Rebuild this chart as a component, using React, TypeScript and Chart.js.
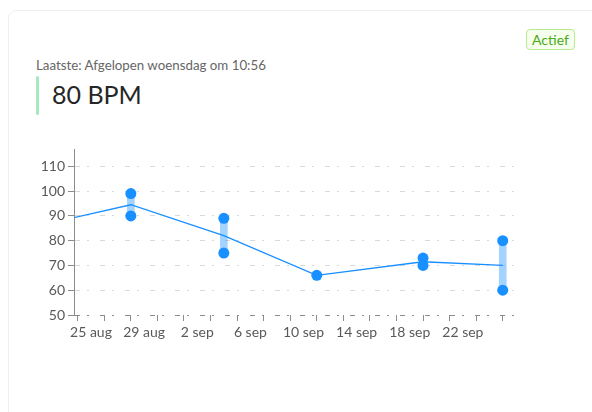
import React, { useEffect, useRef } from 'react';
import { Chart, registerables } from 'chart.js';

Chart.register(...registerables);

// Days after 25 aug
const dayOffsets = [-4, 3, 10, 17, 25, 31];
const minBpm = [82, 90, 75, 66, 70, 60];
const maxBpm = [90, 99, 89, 66, 73, 80];
const avgBpm = [86, 94.5, 82, 66, 71.5, 70];

const xTickDays = [0, 2, 4, 6, 8, 10, 12, 14, 16, 18, 20, 22, 24, 26, 28, 30];
const xTickLabels = ['25 aug', '', '29 aug', '', '2 sep', '', '6 sep', '', '10 sep', '', '14 sep', '', '18 sep', '', '22 sep', ''];
const yTicks = [50, 60, 70, 80, 90, 100, 110];
const xMin = -1.28;
const xMax = 32.3;
const yMin = 50;
const yMax = 117;

const BLUE = '#1890ff';
const FONT = 'Lato, "Noto Sans", sans-serif';

export default function App() {
  const ref = useRef<HTMLCanvasElement | null>(null);

  useEffect(() => {
    if (!ref.current) return;
    const dots: { x: number; y: number }[] = [];
    dayOffsets.forEach((d, i) => {
      dots.push({ x: d, y: minBpm[i] });
      if (maxBpm[i] !== minBpm[i]) dots.push({ x: d, y: maxBpm[i] });
    });
    const chart = new Chart(ref.current, {
      type: 'line',
      data: {
        datasets: [
          {
            type: 'scatter',
            data: dots,
            backgroundColor: BLUE,
            borderColor: BLUE,
            borderWidth: 0,
            pointRadius: 5.5,
            pointHoverRadius: 5.5,
            order: 1,
          } as any,
          {
            type: 'line',
            data: dayOffsets.map((d, i) => ({ x: d, y: avgBpm[i] })),
            borderColor: BLUE,
            borderWidth: 1.3,
            pointRadius: 0,
            tension: 0,
            fill: false,
            order: 2,
          } as any,
          {
            type: 'bar',
            data: dayOffsets.map((d, i) => ({ x: d, y: [minBpm[i], maxBpm[i]] })),
            backgroundColor: 'rgba(24,144,255,0.4)',
            borderWidth: 0,
            barThickness: 7,
            order: 3,
          } as any,
        ],
      },
      options: {
        animation: false,
        responsive: false,
        maintainAspectRatio: false,
        layout: { padding: { top: 9, right: 40, left: 0, bottom: 0 } },
        plugins: { legend: { display: false }, tooltip: { enabled: false } },
        scales: {
          x: {
            type: 'linear',
            min: xMin,
            max: xMax,
            offset: false,
            afterBuildTicks: (s: any) => {
              s.ticks = xTickDays.map((v) => ({ value: v }));
            },
            afterFit: (s: any) => {
              s.height = 45;
              s.paddingLeft = 0;
              s.paddingRight = 0;
            },
            grid: {
              drawOnChartArea: false,
              drawTicks: true,
              tickLength: 6,
              tickColor: '#8c8c8c',
              tickWidth: 1,
              tickBorderDash: [],
            },
            border: { display: false },
            ticks: {
              autoSkip: false,
              maxRotation: 0,
              padding: 3,
              color: '#595959',
              font: { family: FONT, size: 14 },
              callback: (_v: any, i: number) => xTickLabels[i],
            },
          },
          y: {
            type: 'linear',
            min: yMin,
            max: yMax,
            afterBuildTicks: (s: any) => {
              s.ticks = yTicks.map((v) => ({ value: v }));
            },
            afterFit: (s: any) => {
              s.width = 54;
              s.paddingTop = 0;
              s.paddingBottom = 0;
            },
            grid: {
              color: (c: any) => (c.tick && c.tick.value === 50 ? '#8c8c8c' : '#d9d9d9'),
              lineWidth: 1,
              drawTicks: true,
              tickLength: 6,
              tickColor: '#8c8c8c',
              tickBorderDash: [],
            },
            border: { display: true, color: '#8c8c8c', width: 1, dash: [5, 7, 2, 11] },
            ticks: {
              padding: 3,
              color: '#595959',
              font: { family: FONT, size: 14 },
              callback: (v: any) => String(v),
            },
          },
        },
      } as any,
    });
    return () => chart.destroy();
  }, []);

  return (
    <div style={{ position: 'fixed', left: 0, top: 0, width: 592, height: 412, overflow: 'hidden', background: '#fff', fontFamily: FONT }}>
      <div style={{ position: 'absolute', left: 8, top: 10, width: 640, height: 440, border: '1px solid #efefef', borderRadius: 8, boxSizing: 'border-box' }} />
      <div style={{ position: 'absolute', left: 526, top: 29, width: 49, height: 21, boxSizing: 'border-box', border: '1px solid #b7eb8f', background: '#f6ffed', borderRadius: 4, color: '#49aa19', fontSize: 14, lineHeight: '19px', textAlign: 'center' }}>Actief</div>
      <div style={{ position: 'absolute', left: 36, top: 57, fontSize: 13.3, lineHeight: '16px', color: '#666', whiteSpace: 'nowrap' }}>Laatste: Afgelopen woensdag om 10:56</div>
      <div style={{ position: 'absolute', left: 36, top: 76, width: 3, height: 39, borderRadius: 2, background: '#a6e9c0' }} />
      <div style={{ position: 'absolute', left: 52, top: 82, fontSize: 25, lineHeight: '25px', color: '#262626', whiteSpace: 'nowrap' }}>80 BPM</div>
      <canvas ref={ref} width={540} height={220} style={{ position: 'absolute', left: 20, top: 140, width: 540, height: 220 }} />
    </div>
  );
}
